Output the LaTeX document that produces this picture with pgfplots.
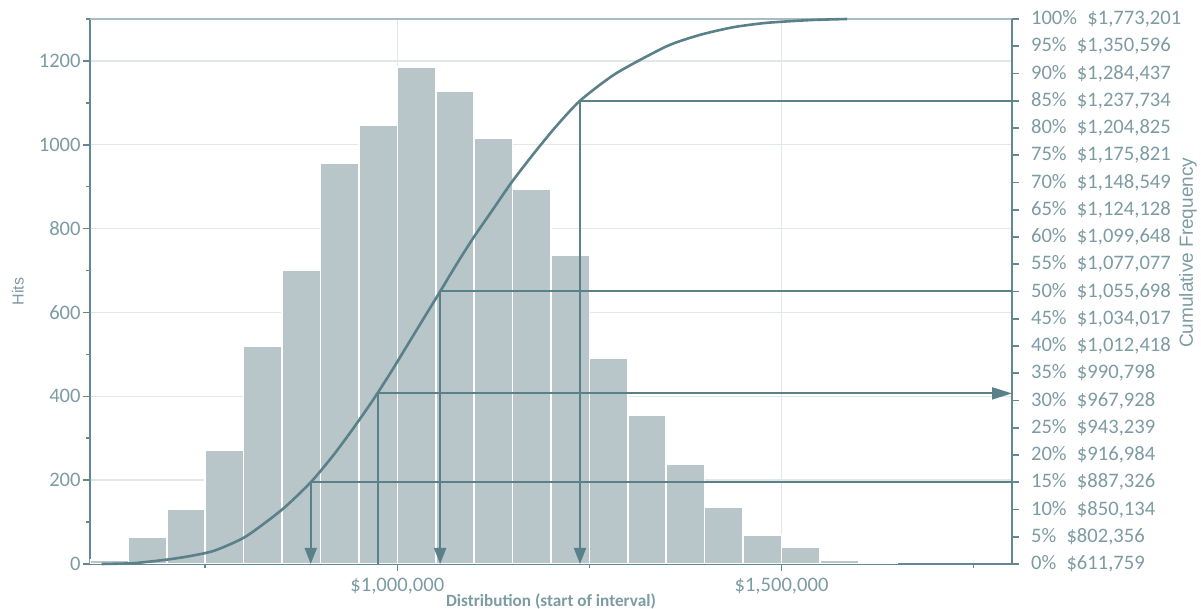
\documentclass[border=0pt]{standalone}
\usepackage{fontspec}
\setmainfont{Carlito}
\newfontfamily\arialfont{Liberation Sans}
\usepackage{pgfplots}
\pgfplotsset{compat=1.18}
\usetikzlibrary{arrows.meta}

\definecolor{barfill}{RGB}{184,198,202}
\definecolor{linecol}{RGB}{90,128,138}
\definecolor{axiscol}{RGB}{100,135,145}
\definecolor{textcol}{RGB}{125,155,163}
\definecolor{gridcol}{RGB}{226,232,234}
\definecolor{topcol}{RGB}{170,188,194}

% tabular digits: every digit in a box as wide as a zero
\newlength\digw
\newcommand\tabnum[1]{\settowidth\digw{0}\tabloop#1\relax}
\def\tabloop#1{\ifx\relax#1\else\tabchar{#1}\expandafter\tabloop\fi}
\def\tabchar#1{\if,#1,\else\makebox[\digw][c]{#1}\fi}
% percentile label on the right axis
\newcommand{\pl}[2]{\tabnum{#1}\%\hspace{0.5em}\$\tabnum{#2}}

\begin{document}
\begin{tikzpicture}
% histogram of hits
\begin{axis}[
    scale only axis, width=461pt, height=272.5pt,
    xmin=600000, xmax=1800000, ymin=0, ymax=1300,
    axis x line*=bottom, axis y line*=left,
    ytick={0,200,...,1200}, minor ytick={100,300,...,1300},
    xtick={1000000,1500000},
    xticklabels={{\$1,000,000},{\$1,500,000}},
    minor xtick={750000,1250000,1750000},
    scaled x ticks=false,
    tick align=outside, major tick length=3.5pt, minor tick length=2pt,
    ymajorgrids, xmajorgrids,
    grid style={gridcol, line width=0.7pt},
    axis line style={axiscol, line width=0.8pt, -},
    tick style={axiscol, line width=0.8pt},
    ticklabel style={textcol, font=\fontsize{10.3}{12}\selectfont},
    yticklabel style={inner xsep=1pt},
    /pgf/number format/assume math mode=true,
    /pgf/number format/1000 sep={},
    xlabel={Distribution (start of interval)},
    xlabel style={at={(axis description cs:0.5,-0.069)}, anchor=center,
      textcol, font=\fontsize{8.6}{10}\selectfont\bfseries},
    ylabel={Hits},
    ylabel style={at={(axis description cs:-0.0781,0.5)}, anchor=center,
      textcol, font=\fontsize{8}{9}\selectfont\arialfont},
  ]
  \addplot[topcol, line width=0.8pt] coordinates {(600000,1300) (1800000,1300)};
  \addplot[ybar interval, fill=barfill, draw=white, line width=0.8pt]
    coordinates {
      (600000,10) (650000,64) (700000,130) (750000,272) (800000,520)
      (850000,700) (900000,956) (950000,1047) (1000000,1186) (1050000,1128)
      (1100000,1016) (1150000,894) (1200000,736) (1250000,492) (1300000,354)
      (1350000,239) (1400000,135) (1450000,69) (1500000,41) (1550000,10)
      (1600000,4) (1650000,0)
    };
\end{axis}

% cumulative frequency
\begin{axis}[
    scale only axis, width=461pt, height=272.5pt,
    xmin=600000, xmax=1800000, ymin=0, ymax=100,
    axis x line=none, axis y line*=right,
    clip=false,
    ytick={0,5,...,100},
    yticklabels={
      {\pl{0}{611,759}},{\pl{5}{802,356}},{\pl{10}{850,134}},{\pl{15}{887,326}},
      {\pl{20}{916,984}},{\pl{25}{943,239}},{\pl{30}{967,928}},{\pl{35}{990,798}},
      {\pl{40}{1,012,418}},{\pl{45}{1,034,017}},{\pl{50}{1,055,698}},
      {\pl{55}{1,077,077}},{\pl{60}{1,099,648}},{\pl{65}{1,124,128}},
      {\pl{70}{1,148,549}},{\pl{75}{1,175,821}},{\pl{80}{1,204,825}},
      {\pl{85}{1,237,734}},{\pl{90}{1,284,437}},{\pl{95}{1,350,596}},
      {\pl{100}{1,773,201}}
    },
    tick align=outside, major tick length=3.5pt,
    axis line style={axiscol, line width=0.8pt, -},
    tick style={axiscol, line width=0.8pt},
    yticklabel style={textcol, font=\fontsize{10.3}{12}\selectfont, xshift=2.5pt},
    ylabel={Cumulative Frequency},
    ylabel style={at={(axis description cs:1.1909,0.571)}, anchor=center,
      textcol, font=\fontsize{9.5}{10}\selectfont\arialfont},
  ]
  \addplot[linecol, line width=1.3pt, smooth, tension=0.4]
    coordinates {
      (615000,0) (656400,0.15) (699900,0.8) (730000,1.45) (762000,2.45)
      (802356,5) (850134,10) (887326,15) (916984,20) (943239,25) (967928,30)
      (990798,35) (1012418,40) (1034017,45) (1055698,50) (1077077,55)
      (1099648,60) (1124128,65) (1148549,70) (1175821,75) (1204825,80)
      (1237734,85) (1284437,90) (1350596,95) (1394300,97.1) (1437600,98.5)
      (1481100,99.3) (1537500,99.8) (1585300,100)
    };
  \addplot[linecol, line width=1pt, -{Triangle[length=8pt,width=6pt]}]
    coordinates {(1800000,15) (887326,15) (887326,0)};
  \addplot[linecol, line width=1pt, -{Triangle[length=8pt,width=6pt]}]
    coordinates {(1800000,50) (1055698,50) (1055698,0)};
  \addplot[linecol, line width=1pt, -{Triangle[length=8pt,width=6pt]}]
    coordinates {(1800000,85) (1237734,85) (1237734,0)};
  \addplot[linecol, line width=1pt, -{Triangle[length=10pt,width=6pt]}]
    coordinates {(975000,0) (975000,31.3) (1800000,31.3)};
\end{axis}
\pgfresetboundingbox
\path[use as bounding box] (-45pt,-22.5pt) rectangle (555.5pt,282pt);
\end{tikzpicture}
\end{document}
